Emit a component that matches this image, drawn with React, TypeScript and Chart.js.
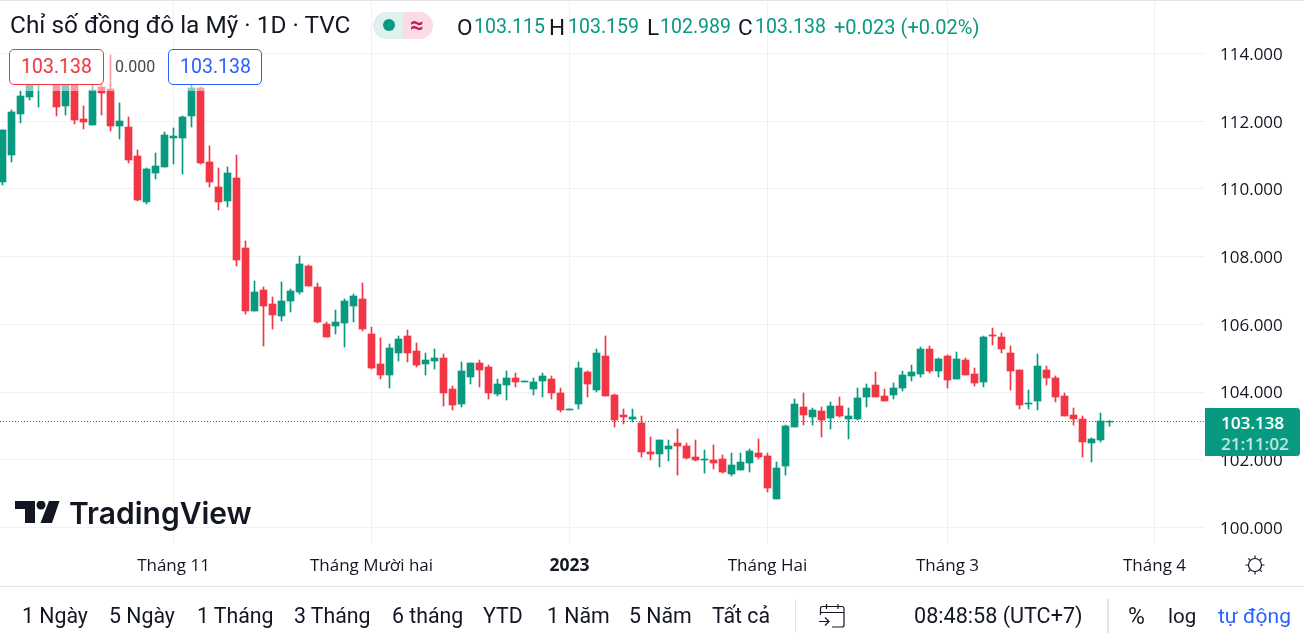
import { useEffect, useRef } from "react";
import Chart from "chart.js/auto";

const opens = [
  110.205, 111.002, 112.214, 112.716, 113.218, 113.808, 113.277, 112.45, 113.365, 112.066,
  111.888, 113.01, 112.951, 111.859, 111.829, 110.973, 109.614, 110.471, 110.648, 111.504,
  111.504, 112.154, 112.981, 110.796, 110.057, 109.644, 110.323, 108.255, 106.394, 107.014,
  106.601, 106.247, 106.69, 106.955, 107.724, 107.103, 106.01, 105.951, 106.04, 106.542,
  106.749, 105.715, 104.829, 104.504, 105.154, 105.656, 105.213, 104.829, 104.918, 105.006,
  104.09, 103.647, 104.445, 104.858, 104.74, 103.943, 104.209, 104.416, 104.298, 104.09,
  104.327, 104.386, 103.973, 103.471, 103.647, 104.593, 104.061, 105.065, 103.914, 103.323,
  103.205, 103.086, 102.23, 102.171, 102.319, 102.496, 102.407, 102.082, 101.993, 101.993,
  102.023, 101.58, 101.698, 101.905, 102.2, 102.112, 100.842, 101.816, 102.968, 103.559,
  103.264, 103.441, 103.234, 103.589, 103.205, 103.205, 103.855, 104.209, 103.884, 103.914,
  104.12, 104.475, 104.534, 105.272, 104.622, 105.065, 104.386, 104.947, 104.534, 104.298,
  105.686, 105.626, 105.154, 104.652, 103.647, 103.736, 104.652, 104.416, 103.884, 103.323,
  103.205, 102.496, 102.584, 103.115,
];
const highs = [
  111.741, 112.332, 112.893, 113.277, 113.808, 114.044, 113.513, 113.513, 113.513, 112.45,
  113.158, 113.218, 113.956, 112.539, 112.125, 111.15, 110.618, 111.061, 111.681, 111.8,
  112.154, 113.069, 113.01, 111.268, 110.618, 110.648, 111.002, 108.462, 107.28, 107.103,
  106.808, 107.251, 107.044, 108.019, 107.753, 107.221, 106.069, 106.424, 106.749, 106.896,
  107.221, 105.922, 105.597, 105.42, 105.656, 105.833, 105.449, 105.154, 105.272, 105.124,
  104.179, 104.888, 104.858, 104.947, 104.799, 104.386, 104.622, 104.563, 104.327, 104.416,
  104.563, 104.475, 104.12, 103.5, 104.888, 104.622, 105.272, 105.656, 103.943, 103.5,
  103.5, 103.293, 102.673, 102.584, 102.584, 102.909, 102.496, 102.584, 102.289, 102.437,
  102.141, 102.2, 102.2, 102.319, 102.614, 102.2, 101.934, 103.027, 103.795, 103.973,
  103.53, 103.559, 103.707, 103.855, 103.53, 104.12, 104.238, 104.593, 104.09, 104.268,
  104.622, 104.799, 105.331, 105.361, 105.006, 105.095, 105.183, 105.006, 104.711, 105.656,
  105.892, 105.745, 105.361, 104.652, 104.061, 105.124, 104.77, 104.475, 103.973, 103.53,
  103.293, 102.644, 103.382, 103.159,
];
const lows = [
  110.116, 110.796, 111.948, 112.627, 112.42, 113.218, 112.154, 112.184, 111.918, 111.77,
  111.888, 112.184, 111.711, 111.474, 110.766, 109.644, 109.555, 110.293, 110.648, 110.737,
  110.441, 111.829, 110.737, 110.057, 109.378, 109.466, 107.724, 106.306, 106.394, 105.36,
  105.863, 106.099, 106.365, 106.896, 107.133, 106.04, 105.626, 105.715, 105.331, 106.069,
  105.804, 104.681, 104.386, 104.12, 104.918, 104.888, 104.74, 104.504, 104.681, 103.589,
  103.471, 103.559, 104.238, 104.15, 103.795, 103.884, 103.766, 104.15, 104.298, 103.914,
  103.855, 103.795, 103.411, 103.471, 103.5, 103.855, 104.002, 103.884, 102.968, 103.057,
  103.116, 102.082, 101.993, 101.787, 101.964, 101.55, 102.023, 101.964, 101.609, 101.728,
  101.609, 101.521, 101.698, 101.639, 102.023, 101.049, 100.842, 101.55, 102.968, 103.027,
  103.027, 102.673, 102.909, 103.264, 102.614, 103.175, 103.559, 103.855, 103.736, 103.795,
  104.032, 104.327, 104.445, 104.563, 104.445, 104.12, 104.386, 104.504, 104.179, 104.15,
  105.39, 105.154, 104.061, 103.5, 103.5, 103.471, 104.209, 103.707, 103.293, 103.027,
  102.082, 101.934, 102.525, 102.989,
];
const closes = [
  111.741, 112.273, 112.745, 113.158, 113.572, 113.335, 112.42, 113.277, 112.036, 111.977,
  112.922, 112.834, 111.859, 112.007, 110.855, 109.673, 110.589, 110.677, 111.593, 111.563,
  112.125, 112.981, 110.766, 110.205, 109.614, 110.471, 107.901, 106.394, 106.955, 106.542,
  106.276, 106.69, 106.985, 107.783, 107.133, 106.069, 105.626, 106.069, 106.69, 106.837,
  105.863, 104.711, 104.504, 105.302, 105.567, 105.154, 104.799, 104.947, 105.006, 103.973,
  103.618, 104.622, 104.858, 104.652, 103.973, 104.238, 104.416, 104.298, 104.327, 104.298,
  104.475, 103.973, 103.471, 103.5, 104.711, 104.238, 105.154, 103.884, 103.175, 103.264,
  103.264, 102.23, 102.171, 102.584, 102.407, 102.407, 102.052, 101.993, 102.023, 101.905,
  101.639, 101.846, 101.934, 102.259, 102.082, 101.167, 101.757, 102.998, 103.647, 103.323,
  103.471, 103.175, 103.589, 103.293, 103.293, 103.825, 104.12, 103.855, 103.736, 104.12,
  104.504, 104.593, 105.272, 104.622, 104.977, 104.357, 104.977, 104.504, 104.268, 105.626,
  105.656, 105.272, 104.622, 103.618, 103.677, 104.77, 104.416, 103.855, 103.293, 103.205,
  102.525, 102.614, 103.146, 103.138,
];

const priceTicks = [100, 102, 104, 106, 108, 110, 112, 114];
const timeTickIndexes = [19, 41, 63, 85, 105, 128];
const timeTickLabels = ["Tháng 11", "Tháng Mười hai", "2023", "Tháng Hai", "Tháng 3", "Tháng 4"];
const rangeButtons = ["1 Ngày", "5 Ngày", "1 Tháng", "3 Tháng", "6 tháng", "YTD", "1 Năm", "5 Năm", "Tất cả"];
const rangeLefts = [22, 109, 197, 294, 392, 483, 547, 629, 712];

const UP = "#089981";
const DOWN = "#f23645";
const TEXT = "#131722";
const GRID = "#f0f1f4";
const UI_FONT = "Roboto, sans-serif";
const AXIS_FONT = "'Open Sans', sans-serif";

function Txt({ x, y, size, color = TEXT, weight = 400, font = UI_FONT, children }: any) {
  return (
    <div
      style={{
        position: "absolute",
        left: x,
        top: y,
        transform: "translateY(-50%)",
        fontFamily: font,
        fontSize: size,
        fontWeight: weight,
        color,
        whiteSpace: "nowrap",
        lineHeight: 1,
      }}
    >
      {children}
    </div>
  );
}

const priceLine = {
  id: "priceLine",
  beforeDatasetsDraw(chart: any) {
    const { ctx, chartArea, scales } = chart;
    const y = Math.floor(scales.y.getPixelForValue(closes[closes.length - 1])) + 0.5;
    ctx.save();
    ctx.strokeStyle = UP;
    ctx.lineWidth = 1;
    ctx.setLineDash([1, 2]);
    ctx.beginPath();
    ctx.moveTo(chartArea.left, y);
    ctx.lineTo(chartArea.right, y);
    ctx.stroke();
    ctx.restore();
  },
};

// the axes must not reserve room for half a label past the plot area
const noPadding = (s: any) => {
  s.paddingTop = 0;
  s.paddingBottom = 0;
  s.paddingLeft = 0;
  s.paddingRight = 0;
};

export default function App() {
  const ref = useRef<HTMLCanvasElement>(null);

  useEffect(() => {
    if (!ref.current) return;
    const colors = closes.map((c, i) => (c >= opens[i] ? UP : DOWN));
    const chart = new Chart(ref.current, {
      type: "bar",
      plugins: [priceLine],
      data: {
        datasets: [
          {
            label: "wick",
            data: lows.map((l, i) => ({ x: i, y: [l, highs[i]] })) as any,
            backgroundColor: colors,
            barThickness: 1,
            grouped: false,
          },
          {
            label: "body",
            data: opens.map((o, i) => ({ x: i, y: [o, closes[i]] })) as any,
            backgroundColor: colors,
            barThickness: 7,
            grouped: false,
          },
        ],
      },
      options: {
        animation: false,
        responsive: false,
        devicePixelRatio: 1,
        layout: { padding: { top: 2, left: 0, right: 0, bottom: 0 } },
        plugins: { legend: { display: false }, tooltip: { enabled: false } },
        scales: {
          x: {
            type: "linear",
            offset: false,
            min: -2.5 / 9,
            max: 1202.5 / 9,
            afterFit: (s: any) => {
              s.height = 98;
              noPadding(s);
            },
            afterBuildTicks: (s: any) => {
              s.ticks = timeTickIndexes.map((value) => ({ value }));
            },
            border: { display: false },
            grid: { color: GRID, drawTicks: false, offset: false },
            ticks: {
              autoSkip: false,
              maxRotation: 0,
              padding: 12,
              color: TEXT,
              font: (ctx: any) => ({
                family: AXIS_FONT,
                size: timeTickLabels[ctx.index] === "2023" ? 17.5 : 17,
                weight: timeTickLabels[ctx.index] === "2023" ? "bold" : "normal",
              }),
              callback: (_v: any, i: number) => timeTickLabels[i],
            },
          },
          y: {
            type: "linear",
            position: "right",
            bounds: "data",
            min: 99.5127,
            max: 115.5209,
            afterFit: (s: any) => {
              s.width = 99;
              noPadding(s);
            },
            afterBuildTicks: (s: any) => {
              s.ticks = priceTicks.map((value) => ({ value }));
            },
            border: { display: false },
            grid: { color: GRID, drawTicks: false },
            ticks: {
              padding: 15,
              labelOffset: 1.5,
              color: TEXT,
              font: { family: AXIS_FONT, size: 17 },
              callback: (v: any) => Number(v).toFixed(3),
            },
          },
        },
      },
    } as any);

    return () => {
      chart.destroy();
    };
  }, []);

  return (
    <div style={{ position: "absolute", left: 0, top: 0, width: 1304, height: 642, overflow: "hidden", background: "#fff" }}>
      <canvas ref={ref} width={1304} height={642} style={{ position: "absolute", left: 0, top: 0 }} />

      {/* top edge */}
      <div style={{ position: "absolute", left: 0, top: 0, width: 1304, height: 1, background: "#e0e3eb" }} />

      {/* header */}
      <Txt x={10} y={25} size={24.4}>Chỉ số đồng đô la Mỹ · 1D · TVC</Txt>
      <div style={{ position: "absolute", left: 373, top: 12, width: 30, height: 27, background: "#dff1ee", borderRadius: "14px 0 0 14px" }} />
      <div style={{ position: "absolute", left: 403, top: 12, width: 30, height: 27, background: "#fadbe6", borderRadius: "0 14px 14px 0" }} />
      <div style={{ position: "absolute", left: 383, top: 19, width: 12, height: 12, background: UP, borderRadius: 6 }} />
      <Txt x={410} y={25} size={24} color="#c2185b" weight={700}>≈</Txt>

      <Txt x={457} y={27} size={22.5}>O</Txt>
      <Txt x={474} y={27} size={19.5} color={UP}>103.115</Txt>
      <Txt x={549} y={27} size={22.5}>H</Txt>
      <Txt x={568} y={27} size={19.5} color={UP}>103.159</Txt>
      <Txt x={647} y={27} size={22.5}>L</Txt>
      <Txt x={660} y={27} size={19.5} color={UP}>102.989</Txt>
      <Txt x={738} y={27} size={22.5}>C</Txt>
      <Txt x={755} y={27} size={19.5} color={UP}>103.138</Txt>
      <Txt x={834} y={27} size={20} color={UP}>+0.023 (+0.02%)</Txt>

      {/* quick trade labels */}
      <div style={{ position: "absolute", left: 9, top: 49, width: 253, height: 42, background: "rgba(255,255,255,0.5)" }} />
      <div style={{ position: "absolute", left: 9, top: 49, width: 93, height: 34, border: `1px solid ${DOWN}`, borderRadius: 5, background: "#fff" }} />
      <Txt x={21} y={67} size={19.5} color={DOWN}>103.138</Txt>
      <Txt x={115} y={67} size={16} color="#434651">0.000</Txt>
      <div style={{ position: "absolute", left: 168, top: 49, width: 92, height: 34, border: "1px solid #2962ff", borderRadius: 5, background: "#fff" }} />
      <Txt x={180} y={67} size={19.5} color="#2962ff">103.138</Txt>

      {/* last price tag */}
      <div style={{ position: "absolute", left: 1205, top: 408, width: 95, height: 48, background: UP, borderRadius: "0 3px 3px 0" }} />
      <Txt x={1221} y={422} size={17} color="#fff" weight={600} font={AXIS_FONT}>103.138</Txt>
      <Txt x={1221} y={443} size={17} color="rgba(255,255,255,0.75)" weight={600} font={AXIS_FONT}>21:11:02</Txt>

      {/* logo */}
      <svg width={52} height={26} viewBox="0 0 52 26" style={{ position: "absolute", left: 15, top: 501 }}>
        <path d="M0 0H20V22H10V8H0Z" fill={TEXT} />
        <circle cx={26} cy={4} r={4.5} fill={TEXT} />
        <path d="M34 0H44.5L37 22H25.5Z" fill={TEXT} />
      </svg>
      <Txt x={69} y={513} size={30} weight={600} font="Inter, sans-serif">TradingView</Txt>

      {/* time axis settings */}
      <svg width={24} height={24} viewBox="0 0 24 24" style={{ position: "absolute", left: 1243, top: 553 }} fill="none" stroke={TEXT} strokeWidth={1.2}>
        <circle cx={12} cy={12} r={6.5} />
        <path d="M12 2.5V5.5M12 18.5V21.5M2.5 12H5.5M18.5 12H21.5M5.3 5.3L7.4 7.4M16.6 16.6L18.7 18.7M5.3 18.7L7.4 16.6M16.6 7.4L18.7 5.3" />
      </svg>

      {/* bottom toolbar */}
      <div style={{ position: "absolute", left: 0, top: 586, width: 1304, height: 1, background: "#e0e3eb" }} />
      {rangeButtons.map((b, i) => (
        <Txt key={b} x={rangeLefts[i]} y={616} size={21.3}>{b}</Txt>
      ))}
      <div style={{ position: "absolute", left: 795, top: 599, width: 1, height: 34, background: "#e0e3eb" }} />
      <svg width={30} height={26} viewBox="0 0 30 26" style={{ position: "absolute", left: 818, top: 603 }} fill="none" stroke={TEXT} strokeWidth={1.2}>
        <path d="M2.5 12V5.5Q2.5 3.5 4.5 3.5H24Q26 3.5 26 5.5V22Q26 24 24 24H14M2.5 9.5H26M8.5 1V6M20 1V6M1 18.5H11M7 14.5L11 18.5L7 22.5" />
      </svg>
      <Txt x={914} y={616} size={21.6}>08:48:58 (UTC+7)</Txt>
      <div style={{ position: "absolute", left: 1107, top: 599, width: 2, height: 34, background: "#e0e3eb" }} />
      <Txt x={1128} y={616} size={23}>%</Txt>
      <Txt x={1168} y={616} size={20.5}>log</Txt>
      <Txt x={1218} y={616} size={21} color="#2962ff">tự động</Txt>
    </div>
  );
}
